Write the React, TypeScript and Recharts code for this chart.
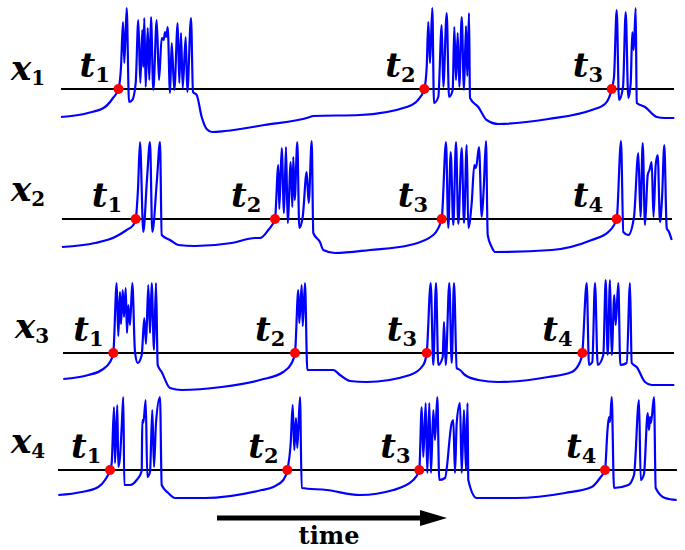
import React from "react";
import { LineChart, Line, XAxis, YAxis, ReferenceLine, ReferenceDot } from "recharts";

// membrane traces, [time, voltage relative to threshold]
const x1Trace: [number, number][] = [
  [1, -28], [28, -24], [45, -18], [53, -9], [58.5, 0], [61, 22], [63, 67], [64.3, 26], [66.7, 81], [69, -13],
  [72.3, -11], [75.7, 6], [78.3, 69], [80.3, 6], [82.3, 59], [83.3, 22], [84.3, 71], [85.7, 2], [87.7, 61],
  [89.3, 9], [91, 72], [93.3, -1], [96.7, 69], [99, 9], [101.7, 51], [103.7, 49], [105, 57], [106.3, 52],
  [107.7, 62], [110, -4], [111.7, 46], [114.3, -1], [117.7, 66], [119.3, 6], [121, 56], [122.7, 1], [125.7, 52],
  [127.3, -3], [131, 71], [133, -3], [136.7, -6], [141.7, -28], [146.7, -40], [152, -43], [165, -42],
  [204.3, -36], [250, -28], [253, -27], [300, -26], [346.7, -18], [358, -11], [364.3, 0], [366.7, 22],
  [368.3, 67], [370, 26], [372.3, 81], [374, -14], [378.3, -8], [381.7, 64], [383.3, 2], [386.7, 76], [389, -8],
  [392.7, -1], [394.3, 62], [396, 9], [397.7, 56], [399.3, 2], [401.7, 72], [404, -1], [406, 63], [407.3, 13],
  [409, 76], [410, -9], [418.3, -18], [426.7, -31], [438.3, -35], [488.3, -30], [531.7, -21], [545, -15],
  [551.7, 0], [554, 12], [556.7, 79], [559, -11], [563, 2], [565.7, 77], [568.3, -9], [570.7, 6], [572.3, 57],
  [573.7, 39], [575.7, 81], [576.7, -14], [585, -18], [596.7, -28], [605, -29], [614.3, -29],
];
const x1Spikes = [58.5, 364.3, 551.7];

const x2Trace: [number, number][] = [
  [2, -28], [35, -24], [55, -18], [66.7, -11], [73.3, -6], [75.7, 0], [78, 30], [80, 77], [83.3, -13], [87, 40],
  [90, 77], [92.3, -13], [97, 40], [100, 77], [101.7, -16], [110, -21], [118.3, -26], [135, -27], [171.7, -24],
  [195, -19], [200, -19], [208.3, -11], [215, 0], [218.3, 54], [219.3, 10], [221.7, 71], [224, 6], [226, 72],
  [227.7, -4], [230.7, 57], [232.3, 12], [233.3, 62], [234.7, 19], [237.3, 77], [239.3, -9], [242.7, 2],
  [246.7, 47], [248.7, 16], [251.7, 78], [253.3, -14], [260, -23], [263.3, -31], [275, -34], [310, -31],
  [350, -26], [373.3, -16], [381.7, 0], [386, 77], [388.3, -9], [390.7, 67], [393.3, -6], [396, 77], [398.3, -5],
  [401.7, 71], [404, -4], [406.7, 74], [408.3, -9], [411.7, 16], [414.3, 54], [416, 51], [419, 72], [421.7, 2],
  [423.7, 30], [426, 78], [427.7, -16], [431.7, -28], [435, -33], [491.7, -31], [531.7, -21], [548.3, -13],
  [556.7, 0], [561, 78], [563.3, -13], [568.3, -16], [574, 2], [578.3, 66], [580.5, 2], [582.7, 76], [585, -6],
  [587.7, 44], [589.5, 49], [591.7, 57], [593.5, 2], [595.7, 54], [597.7, 64], [600, -3], [602, 20], [604.3, 74],
  [606.7, -9], [609, -13], [611.7, -21],
];
const x2Spikes = [75.7, 215, 381.7, 556.7];

const x3Trace: [number, number][] = [
  [3.3, -26], [28.3, -22], [41.7, -17], [50, -9], [53.3, 0], [56.7, 70], [58.3, 17], [60, 61], [61, 29],
  [62.7, 63], [64, 36], [65.7, 65], [67, 20], [68.3, 48], [70, 28], [72.3, 70], [75, 1], [77.7, -10], [81.7, -2],
  [84.3, 35], [86, 9], [88.3, 68], [90, 20], [91.7, 70], [94, 3], [96, 70], [97.7, -12], [101.7, -19], [110, -35],
  [121.7, -37], [161.7, -34], [200, -27], [223.3, -19], [231.7, -10], [235, 0], [238.3, 63], [239.3, 30],
  [241.7, 68], [242.7, 27], [245, 70], [247.3, -17], [273.3, -17], [280, -22], [290, -28], [306.7, -29],
  [350, -22], [363.3, -12], [366.7, 0], [370.7, 70], [373.3, -12], [376, 70], [378.3, -12], [382.7, -4],
  [384, 31], [385.7, -12], [389.3, 70], [391.7, -10], [394, 70], [396.7, -15], [400, -17], [405, -22],
  [418.3, -27], [438.3, -29], [488.3, -24], [511.7, -19], [520, -9], [522.3, 0], [526.7, 70], [529, -12],
  [532.3, -9], [535, 70], [537.7, -12], [543.3, -2], [545.7, 73], [547.7, -2], [550, 73], [551.7, -2],
  [554.3, 58], [555.7, 28], [558.3, 70], [560.3, -12], [566.7, -10], [570, 70], [571.7, -10], [576.7, -14],
  [585, -29], [591.7, -32], [614.3, -32],
];
const x3Spikes = [53.3, 235, 366.7, 522.3];

const x4Trace: [number, number][] = [
  [-1.7, -25], [21.7, -22], [38.3, -17], [45, -10], [50, 0], [51.7, 7], [54, 63], [55, 7], [57.3, 65], [58.3, 3],
  [60, 13], [61.7, 43], [63.3, 73], [64.3, -15], [70, -15], [76.7, -10], [81.7, -1], [82.3, 50], [83.3, 47],
  [85.7, 70], [87.3, -7], [90, -2], [92.3, 60], [94, 3], [96, 47], [100, 73], [101.7, -15], [108.3, -23],
  [115, -28], [145, -28], [201.7, -20], [213.3, -17], [223.3, -10], [227.3, 0], [230.7, 27], [232.7, 65],
  [234.3, 20], [236, 52], [237.3, 22], [240, 73], [241.7, -18], [266.7, -20], [300, -25], [333.3, -20],
  [353.3, -10], [359.3, 0], [361.7, 63], [363.3, 13], [365.7, 67], [367.3, -3], [369.3, 67], [371, -3],
  [373.3, 60], [375, 30], [377.3, 73], [379.3, -10], [385, -8], [391.7, 47], [393.3, 50], [395, -3], [396.7, 47],
  [400, 67], [401.7, -3], [404, 60], [406, 0], [407.5, 67], [408.3, -10], [416.7, -28], [455, -28], [505, -23],
  [531.7, -17], [540, -8], [545, 0], [547.5, 40], [549, 53], [550, 48], [551.7, 73], [554, -18], [568.3, -15],
  [574, -5], [579, 70], [580.7, -10], [584, -4], [587.7, 57], [589, 40], [590, 53], [591, 47], [594, 73],
  [595.7, -18], [605, -28], [616.7, -30],
];
const x4Spikes = [50, 227.3, 359.3, 545];

const neuronNames = ["1", "2", "3", "4"];
const timeLabel = "time";

const traces = [x1Trace, x2Trace, x3Trace, x4Trace];
const spikes = [x1Spikes, x2Spikes, x3Spikes, x4Spikes];

// layout: threshold row (px), threshold line extent, spike label offset, name baseline
const panels = [
  { row: 89, from: 1, to: 614, labelDx: -39, nameX: 11, nameY: 80 },
  { row: 219, from: 2, to: 612, labelDx: -44, nameX: 11, nameY: 201 },
  { row: 353, from: 3, to: 614, labelDx: -40, nameX: 15, nameY: 338 },
  { row: 470, from: -2, to: 617, labelDx: -39, nameX: 11, nameY: 453 },
];

const FONT = "'DejaVu Serif', serif";

function spikeLabel(n: number, dx: number) {
  return (props: any) => {
    const vb = props.viewBox;
    const cx = vb.x + vb.width / 2;
    const cy = vb.y + vb.height / 2;
    return (
      <text x={cx + dx} y={cy - 12} fontFamily={FONT} fontWeight="bold" fill="#000">
        <tspan fontStyle="italic" fontSize={34}>t</tspan>
        <tspan fontSize={21} dy={5}>{n}</tspan>
      </text>
    );
  };
}

function Panel({ idx }: { idx: number }) {
  const p = panels[idx];
  const data = traces[idx].map(([t, v]) => ({ t, v }));
  return (
    <div style={{ position: "absolute", left: 0, top: p.row - 95 }}>
      <LineChart width={685} height={145} data={data} margin={{ top: 0, right: 5, bottom: 0, left: 55 }}>
        <XAxis type="number" dataKey="t" domain={[-5, 620]} hide allowDataOverflow />
        <YAxis type="number" domain={[-50, 95]} hide allowDataOverflow />
        <ReferenceLine
          segment={[{ x: p.from, y: 0 }, { x: p.to, y: 0 }]}
          stroke="#000"
          strokeWidth={2}
        />
        <Line
          type="monotone"
          dataKey="v"
          stroke="#0000ff"
          strokeWidth={2.2}
          dot={false}
          isAnimationActive={false}
        />
        {spikes[idx].map((s, i) => (
          <ReferenceDot
            key={s}
            x={s}
            y={0}
            r={5}
            fill="#ff0000"
            stroke="none"
            label={spikeLabel(i + 1, p.labelDx)}
          />
        ))}
      </LineChart>
    </div>
  );
}

export default function App() {
  return (
    <div style={{ position: "absolute", left: 0, top: 0, width: 685, height: 550, background: "#fff", overflow: "hidden" }}>
      {panels.map((_, i) => (
        <Panel key={i} idx={i} />
      ))}
      <svg width={685} height={550} style={{ position: "absolute", left: 0, top: 0, pointerEvents: "none" }}>
        {panels.map((p, i) => (
          <text key={i} x={p.nameX} y={p.nameY} fontFamily={FONT} fontWeight="bold" fill="#000">
            <tspan fontStyle="italic" fontSize={34}>x</tspan>
            <tspan fontSize={20} dy={5}>{neuronNames[i]}</tspan>
          </text>
        ))}
        <line x1={217} y1={518} x2={424} y2={518} stroke="#000" strokeWidth={5} />
        <polygon points="420,510 447,518 420,526" fill="#000" />
        <text x={329} y={544} textAnchor="middle" fontFamily={FONT} fontWeight="bold" fontSize={24} fill="#000">
          {timeLabel}
        </text>
      </svg>
    </div>
  );
}
